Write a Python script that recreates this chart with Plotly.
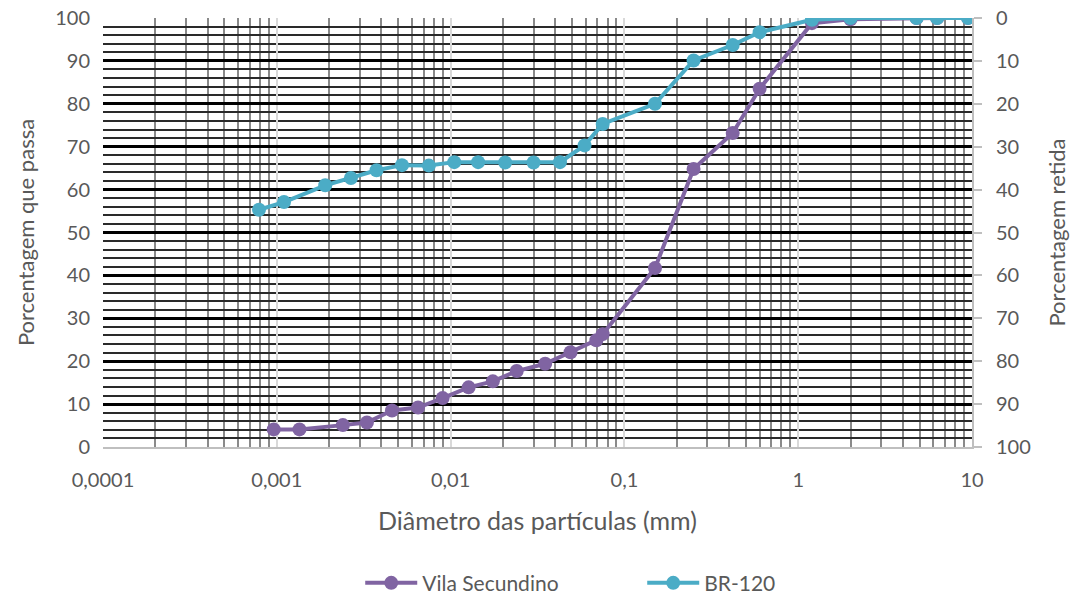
import plotly.graph_objects as go

# Particle-size distribution of two soils (percent passing vs. diameter, mm)
vila_diam = [0.00096, 0.00135, 0.0024, 0.0033, 0.0046, 0.0065, 0.009, 0.0127,
             0.0175, 0.024, 0.035, 0.049, 0.069, 0.075, 0.15, 0.25, 0.42, 0.6,
             1.2, 2.0, 4.8, 6.3, 9.5]
vila_pass = [4.1, 4.1, 5.1, 5.7, 8.5, 9.2, 11.4, 13.9, 15.3, 17.7, 19.4, 22.1,
             24.9, 26.3, 41.7, 64.8, 73.2, 83.5, 98.8, 99.7, 100, 100, 100]

br_diam = [0.00079, 0.0011, 0.0019, 0.00267, 0.00375, 0.00525, 0.0075, 0.0105,
           0.0144, 0.0206, 0.030, 0.0426, 0.059, 0.075, 0.15, 0.25, 0.42, 0.6,
           1.2, 2.0, 4.8, 6.3, 9.5]
br_pass = [55.3, 57.1, 61.0, 62.7, 64.5, 65.7, 65.6, 66.4, 66.4, 66.3, 66.3, 66.4,
           70.3, 75.3, 80.0, 90.1, 93.7, 96.7, 99.6, 100, 100, 100, 100]

x_tickvals = [0.0001, 0.001, 0.01, 0.1, 1, 10]
x_ticktext = ["0,0001", "0,001", "0,01", "0,1", "1", "10"]
y_ticks = list(range(0, 101, 10))

PURPLE = "#8064a2"
BLUE = "#4bacc6"
TXT = "#595959"
FONT = "Lato"

fig = go.Figure()
fig.add_trace(go.Scatter(
    x=vila_diam, y=vila_pass, name="Vila Secundino", mode="lines+markers",
    line=dict(color=PURPLE, width=4), marker=dict(color=PURPLE, size=14),
))
fig.add_trace(go.Scatter(
    x=br_diam, y=br_pass, name="BR-120", mode="lines+markers",
    line=dict(color=BLUE, width=4), marker=dict(color=BLUE, size=14),
))
# empty trace so the retained-percentage axis is rendered on the right
fig.add_trace(go.Scatter(x=[], y=[], yaxis="y2", showlegend=False, hoverinfo="skip"))

fig.update_layout(
    width=1070, height=600,
    margin=dict(l=103, r=98, t=18, b=153),
    paper_bgcolor="white", plot_bgcolor="white",
    font=dict(family=FONT, color=TXT, size=20),
    showlegend=True,
    legend=dict(orientation="h", x=0.296, xanchor="left",
                yref="container", y=0.028, yanchor="middle",
                font=dict(size=21, color=TXT), itemwidth=52, entrywidth=215),
    xaxis=dict(
        type="log", range=[-4, 1], automargin=False,
        tickmode="array", tickvals=x_tickvals, ticktext=x_ticktext,
        showgrid=True, gridcolor="#d9d9d9", gridwidth=2,
        minor=dict(dtick="D1", showgrid=True, gridcolor="#8a8a8a", gridwidth=2, ticks=""),
        showline=True, linecolor="#bfbfbf", linewidth=2,
        ticks="", ticklabelstandoff=14, zeroline=False,
        title=dict(text="Diâmetro das partículas (mm)", font=dict(size=25, color=TXT), standoff=22),
    ),
    yaxis=dict(
        range=[0, 100], tickvals=y_ticks, automargin=False,
        showgrid=True, gridcolor="#000000", gridwidth=2.5,
        minor=dict(dtick=2, showgrid=True, gridcolor="#2a2a2a", gridwidth=1.5),
        ticks="", zeroline=False, showline=False, ticklabelstandoff=12,
        title=dict(text="Porcentagem que passa", font=dict(size=22, color=TXT), standoff=14),
    ),
    yaxis2=dict(
        overlaying="y", side="right", range=[100, 0], tickvals=y_ticks, automargin=False,
        showgrid=False, zeroline=False,
        showline=True, linecolor="#bfbfbf", linewidth=2,
        ticks="outside", ticklen=8, tickcolor="#bfbfbf", tickwidth=2,
        ticklabelstandoff=10,
        title=dict(text="Porcentagem retida", font=dict(size=22, color=TXT), standoff=20),
    ),
)

fig.write_html("out.html")
